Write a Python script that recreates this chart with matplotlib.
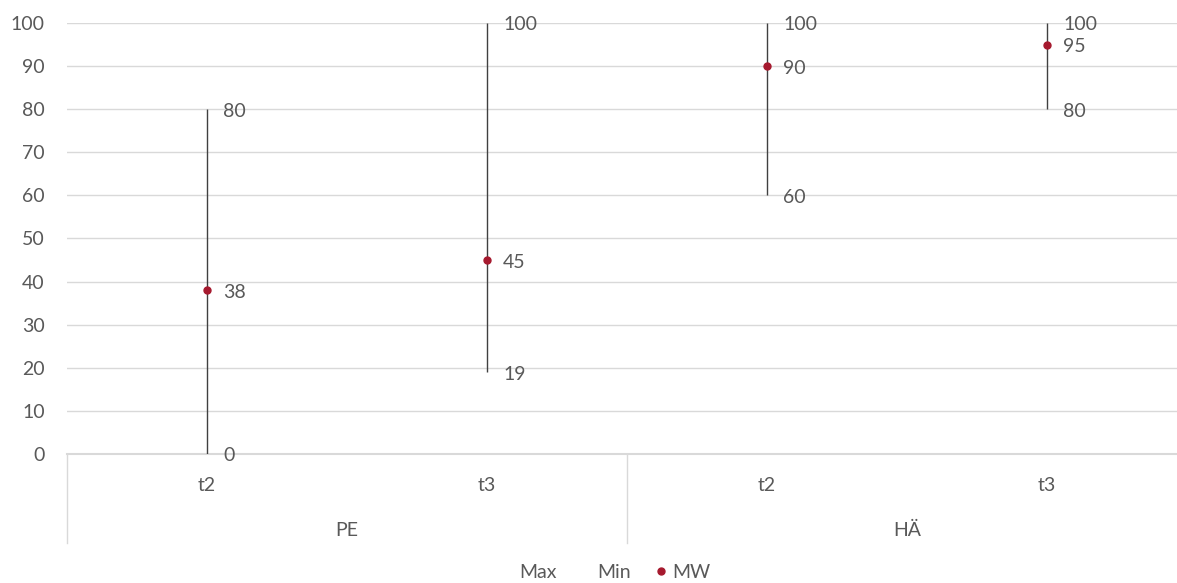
import matplotlib.pyplot as plt
import matplotlib.transforms as mtransforms
from matplotlib.lines import Line2D

plt.rcParams['font.family'] = ['Lato', 'DejaVu Sans']

# Data: high-low ranges with mean values
groups = ["PE", "HÄ"]
times = ["t2", "t3", "t2", "t3"]
max_vals = [80, 100, 100, 100]
min_vals = [0, 19, 60, 80]
mw_vals = [38, 45, 90, 95]

text_color = "#595959"
grid_color = "#D9D9D9"
line_color = "#404040"
dot_color = "#A6192E"

fig = plt.figure(figsize=(11.77, 5.83), dpi=100)
ax = fig.add_axes([67 / 1177, 0.2213, 1120 / 1177, 0.7393])

x = list(range(len(times)))

# high-low lines
ax.vlines(x, min_vals, max_vals, color=line_color, linewidth=1.0, zorder=3)
ax.plot(x, mw_vals, linestyle="none", marker="o", markersize=5,
        color=dot_color, zorder=4)

# data labels, placed to the right of each point
offset = mtransforms.offset_copy(ax.transData, fig=fig, x=16, y=-2, units="dots")
for xi, hi, lo, mw in zip(x, max_vals, min_vals, mw_vals):
    ax.text(xi, hi, f"{hi}", transform=offset, ha="left", va="center",
            fontsize=14, color=text_color)
    ax.text(xi, lo, f"{lo}", transform=offset, ha="left", va="center",
            fontsize=14, color=text_color)
    ax.text(xi, mw, f"{mw}", transform=offset, ha="left", va="center",
            fontsize=14, color=text_color)

ax.set_xlim(-0.5, len(times) - 0.5)
ax.set_ylim(0, 100)
ax.set_yticks(range(0, 101, 10))
ax.tick_params(axis="y", length=0, pad=16, labelsize=14, labelcolor=text_color)
ax.set_xticks([])
ax.yaxis.grid(True, color=grid_color, linewidth=1.0)
ax.axhline(0, color=grid_color, linewidth=1.5, clip_on=False, zorder=1)
ax.set_axisbelow(True)
for side in ["top", "right", "left", "bottom"]:
    ax.spines[side].set_visible(False)

# two-level category axis
trans = mtransforms.blended_transform_factory(ax.transData, ax.transAxes)
for xi, t in zip(x, times):
    ax.text(xi, -0.072, t, transform=trans, ha="center", va="center",
            fontsize=14, color=text_color)
for gi, g in enumerate(groups):
    ax.text(gi * 2 + 0.5, -0.177, g, transform=trans, ha="center", va="center",
            fontsize=14, color=text_color)
for xb in [-0.5, 1.5, 3.5]:
    ax.plot([xb, xb], [0, -0.207], transform=trans, color=grid_color,
            linewidth=1.0, clip_on=False)

# legend: Max and Min have no visible markers
handles = [
    Line2D([], [], linestyle="none"),
    Line2D([], [], linestyle="none"),
    Line2D([], [], linestyle="none", marker="o", markersize=5, color=dot_color),
]
fig.legend(handles, ["Max", "Min", "MW"], loc="center", bbox_to_anchor=(0.515, 0.018),
           ncol=3, frameon=False, fontsize=14, labelcolor=text_color,
           handlelength=0.6, handletextpad=0.3, columnspacing=1.2)

fig.savefig("out.png", dpi=100)
